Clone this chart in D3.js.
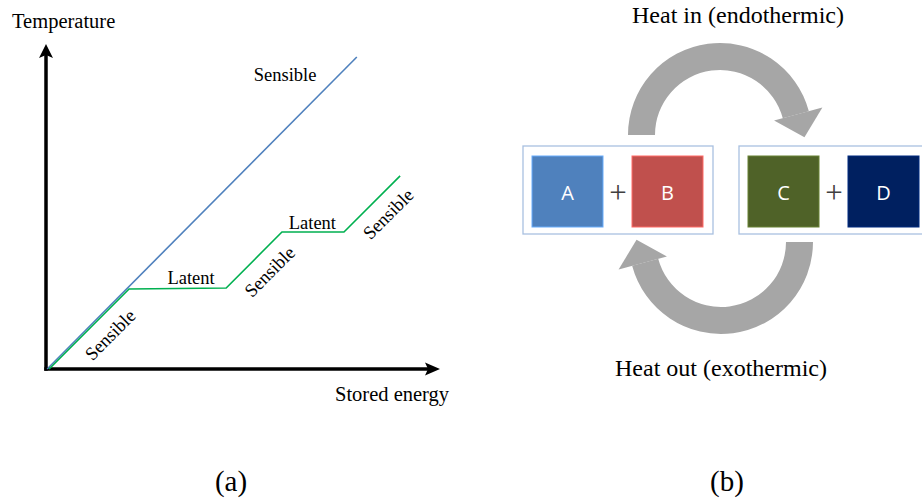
<!DOCTYPE html>
<html>
<head>
<meta charset="utf-8">
<script src="https://cdn.jsdelivr.net/npm/d3@7"></script>
<style>
  html, body { margin: 0; padding: 0; background: #fff; }
  svg { display: block; }
</style>
</head>
<body>
<svg id="chart" width="922" height="498"></svg>
<script>
// ---------- Data (panel a) ----------
const sensibleOnly = [[0.3, 0], [79.7, 96.3]];            // pure sensible storage (blue)
const withLatent = [[0.8, 0], [21.3, 24.7], [46.2, 25.0], [60.5, 42.3], [76.4, 42.3], [90.8, 59.6]]; // sensible + latent (green)
const segLabels = ["Sensible", "Latent", "Sensible", "Latent", "Sensible", "Sensible"];
const segLabelPos = [[16.5, 10.5], [37.2, 28.0], [57.4, 30.0], [68.3, 45.0], [87.8, 47.8], [61.3, 90.8]];
const segLabelRot = [-45, 0, -45, 0, -45, 0];
const axisTitles = ["Temperature", "Stored energy"];
const panelLabels = ["(a)", "(b)"];

// ---------- Data (panel b) ----------
const reactants = ["A", "B"];
const products = ["C", "D"];
const reactantColors = ["#4f81bd", "#c0504d"];
const productColors = ["#4f6228", "#002060"];
const heatLabels = ["Heat in (endothermic)", "Heat out (exothermic)"];

const svg = d3.select("#chart");
const serif = "'Liberation Serif', 'Times New Roman', serif";

// ---------- Panel (a) ----------
const x = d3.scaleLinear().domain([0, 100]).range([46, 436]);
const y = d3.scaleLinear().domain([0, 100]).range([369, 45]);

const gA = svg.append("g");

// axes lines
gA.append("line").attr("x1", x(0)).attr("x2", x(0)).attr("y1", y(0) + 1.7).attr("y2", 54)
  .attr("stroke", "#000").attr("stroke-width", 3.5);
gA.append("line").attr("x1", x(0) - 1.7).attr("x2", 430).attr("y1", y(0)).attr("y2", y(0))
  .attr("stroke", "#000").attr("stroke-width", 3.5);
// arrow heads
gA.append("path")
  .attr("d", `M${x(0)},44 L${x(0) + 7},58 L${x(0)},55 L${x(0) - 7},58 Z`)
  .attr("fill", "#000");
gA.append("path")
  .attr("d", `M440,${y(0)} L425,${y(0) - 6.5} L428,${y(0)} L425,${y(0) + 6.5} Z`)
  .attr("fill", "#000");

const line = d3.line().x(d => x(d[0])).y(d => y(d[1]));
gA.append("path").datum(sensibleOnly).attr("d", line)
  .attr("fill", "none").attr("stroke", "#4f81bd").attr("stroke-width", 1.6);
gA.append("path").datum(withLatent).attr("d", line)
  .attr("fill", "none").attr("stroke", "#00b050").attr("stroke-width", 1.6);

// titles
gA.append("text").attr("x", 12).attr("y", 28).text(axisTitles[0])
  .attr("font-family", serif).attr("font-size", 20.5).attr("fill", "#000");
gA.append("text").attr("x", 335).attr("y", 401).text(axisTitles[1])
  .attr("font-family", serif).attr("font-size", 20.5).attr("fill", "#000");

// segment labels
gA.selectAll("text.seg").data(segLabels).enter().append("text")
  .attr("class", "seg")
  .attr("transform", (d, i) => `translate(${x(segLabelPos[i][0])},${y(segLabelPos[i][1])}) rotate(${segLabelRot[i]})`)
  .attr("text-anchor", "middle").attr("dominant-baseline", "central")
  .attr("font-family", serif).attr("font-size", 18.5).attr("fill", "#000")
  .text(d => d);

// panel labels
svg.selectAll("text.panel").data(panelLabels).enter().append("text")
  .attr("class", "panel")
  .attr("x", (d, i) => i === 0 ? 231 : 727).attr("y", 491)
  .attr("text-anchor", "middle")
  .attr("font-family", serif).attr("font-size", 29).attr("fill", "#000")
  .text(d => d);

// ---------- Panel (b) ----------
const gB = svg.append("g");

// heat labels
gB.append("text").attr("x", 738).attr("y", 23).attr("text-anchor", "middle")
  .attr("font-family", serif).attr("font-size", 24).attr("fill", "#000").text(heatLabels[0]);
gB.append("text").attr("x", 721).attr("y", 376).attr("text-anchor", "middle")
  .attr("font-family", serif).attr("font-size", 24).attr("fill", "#000").text(heatLabels[1]);

// circular arrows
const rIn = 65, rOut = 92, a0 = -Math.PI / 2, a1 = 75 * Math.PI / 180;
function drawCurvedArrow(g) {
  const arc = d3.arc().innerRadius(rIn).outerRadius(rOut).startAngle(a0).endAngle(a1);
  g.append("path").attr("d", arc()).attr("fill", "#a6a6a6");
  // arrow head at end angle
  const rb0 = rIn - 9, rb1 = rOut + 14, rm = (rb0 + rb1) / 2, len = 24;
  const px = (r, a) => [r * Math.sin(a), -r * Math.cos(a)];
  const b0 = px(rb0, a1), b1 = px(rb1, a1), bm = px(rm, a1);
  const tip = [bm[0] + len * Math.cos(a1), bm[1] + len * Math.sin(a1)];
  g.append("path").attr("d", `M${b0}L${b1}L${tip}Z`).attr("fill", "#a6a6a6");
}
const topArrow = gB.append("g").attr("transform", "translate(720,135)");
drawCurvedArrow(topArrow);
const botArrow = gB.append("g").attr("transform", "translate(721,242) rotate(180)");
drawCurvedArrow(botArrow);

// boxes
function drawGroup(x0, names, colors) {
  const g = gB.append("g").attr("transform", `translate(${x0},146)`);
  g.append("rect").attr("x", 0).attr("y", 0).attr("width", 190).attr("height", 88)
    .attr("fill", "#fff").attr("stroke", "#a9c0e0").attr("stroke-width", 1.3);
  const sx = [9, 109];
  names.forEach((n, i) => {
    g.append("rect").attr("x", sx[i]).attr("y", 10).attr("width", 71).attr("height", 71)
      .attr("fill", colors[i]).attr("stroke", d3.color(colors[i]).brighter(0.8)).attr("stroke-width", 1);
    g.append("text").attr("x", sx[i] + 35.5).attr("y", 46).attr("text-anchor", "middle")
      .attr("dominant-baseline", "central")
      .attr("font-family", "'Open Sans', Lato, sans-serif").attr("font-size", 20).attr("fill", "#fff").text(n);
  });
  g.append("text").attr("x", 95).attr("y", 46).attr("text-anchor", "middle")
    .attr("dominant-baseline", "central")
    .attr("font-family", serif).attr("font-size", 31).attr("fill", "#404040").text("+");
}
drawGroup(523, reactants, reactantColors);
drawGroup(739, products, productColors);
</script>
</body>
</html>
